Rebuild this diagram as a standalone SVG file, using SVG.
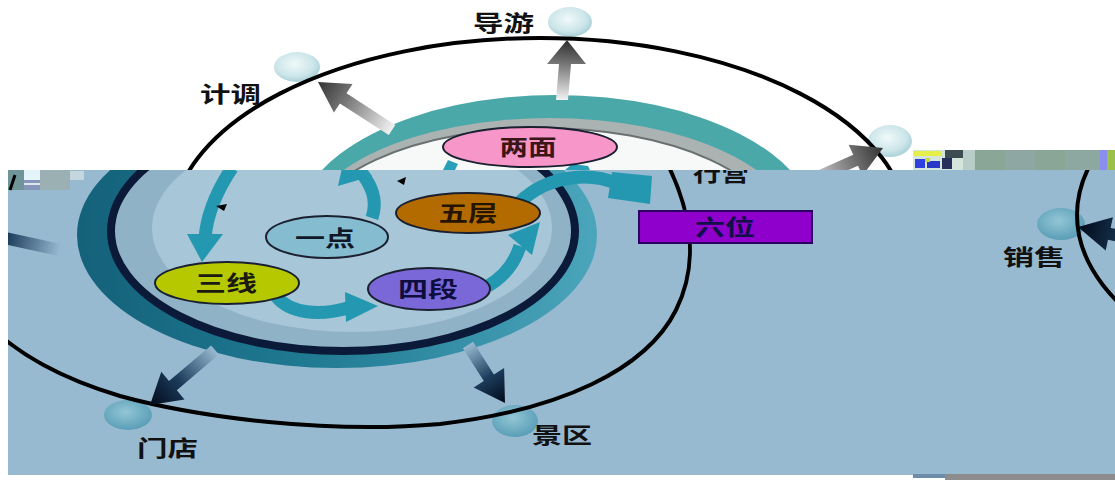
<svg xmlns="http://www.w3.org/2000/svg" width="1115" height="480" viewBox="0 0 1115 480">
<defs>
<style>
.lbl{font-family:"Noto Sans CJK SC","Noto Sans",sans-serif;font-weight:700;font-size:22px;fill:#111;}
.nt{font-family:"Noto Sans CJK SC","Noto Sans",sans-serif;font-weight:700;font-size:22px;text-anchor:middle;}
.orbit{fill:none;stroke:#000;stroke-width:4;}
.ta{fill:none;stroke:#2398b0;stroke-width:13;}
.th{fill:#2398b0;}
.node{stroke:#1a2030;stroke-width:2;}
</style>
<clipPath id="clipTop"><rect x="0" y="0" width="1115" height="170"/></clipPath>
<clipPath id="clipLow"><rect x="8" y="170" width="1107" height="305"/></clipPath>
<radialGradient id="ballTop" cx="0.45" cy="0.4" r="0.6"><stop offset="0" stop-color="#f0f9fa"/><stop offset="0.7" stop-color="#cbe5e9"/><stop offset="1" stop-color="#a9d0d8"/></radialGradient>
<radialGradient id="ballLow" cx="0.45" cy="0.4" r="0.6"><stop offset="0" stop-color="#93c6d5"/><stop offset="1" stop-color="#5a9eb7"/></radialGradient>
<linearGradient id="tealLow" x1="0" y1="0" x2="1" y2="0"><stop offset="0" stop-color="#14617a"/><stop offset="0.45" stop-color="#1f7a92"/><stop offset="1" stop-color="#4ba6bc"/></linearGradient>
<linearGradient id="gUp" gradientUnits="userSpaceOnUse" x1="562" y1="100" x2="567" y2="42"><stop offset="0" stop-color="#f2f2f2"/><stop offset="0.6" stop-color="#7a7a7a"/><stop offset="1" stop-color="#333"/></linearGradient>
<linearGradient id="gLeft" gradientUnits="userSpaceOnUse" x1="392" y1="130" x2="318" y2="82"><stop offset="0" stop-color="#f2f2f2"/><stop offset="0.6" stop-color="#7a7a7a"/><stop offset="1" stop-color="#333"/></linearGradient>
<linearGradient id="gRight" gradientUnits="userSpaceOnUse" x1="800" y1="185" x2="883" y2="148"><stop offset="0" stop-color="#f2f2f2"/><stop offset="0.6" stop-color="#7a7a7a"/><stop offset="1" stop-color="#333"/></linearGradient>
<linearGradient id="gStore" gradientUnits="userSpaceOnUse" x1="215" y1="350" x2="150" y2="405"><stop offset="0" stop-color="#98bad1"/><stop offset="0.55" stop-color="#1c3c5c"/><stop offset="1" stop-color="#020a1a"/></linearGradient>
<linearGradient id="gScenic" gradientUnits="userSpaceOnUse" x1="468" y1="345" x2="505" y2="403"><stop offset="0" stop-color="#98bad1"/><stop offset="0.55" stop-color="#1c3c5c"/><stop offset="1" stop-color="#020a1a"/></linearGradient>
<linearGradient id="gSales" gradientUnits="userSpaceOnUse" x1="1184" y1="250" x2="1078" y2="227"><stop offset="0" stop-color="#98bad1"/><stop offset="0.5" stop-color="#1c3c5c"/><stop offset="1" stop-color="#020a1a"/></linearGradient>
</defs>

<rect x="0" y="0" width="1115" height="480" fill="#fff"/>

<!-- ===== upper band ===== -->
<g id="upper" clip-path="url(#clipTop)">
  <g id="node-daoyou-ball"><ellipse cx="570" cy="22" rx="22" ry="15" fill="url(#ballTop)"/></g>
  <g id="node-jidiao-ball"><ellipse cx="297" cy="67" rx="23" ry="15" fill="url(#ballTop)"/></g>
  <g id="node-right-ball"><ellipse cx="890" cy="141" rx="22" ry="16" fill="url(#ballTop)"/></g>
  <ellipse class="orbit" cx="540" cy="228" rx="368" ry="190"/>
  <g id="ring-top">
    <ellipse cx="556" cy="228" rx="260" ry="133" fill="#4ba8a8"/>
    <ellipse cx="550" cy="232" rx="246" ry="114" fill="#aab2b2"/>
    <ellipse cx="543" cy="236" rx="236" ry="108" fill="#f7f9f9" stroke="#6a7070" stroke-width="2"/>
    <polygon points="443,170 448,160 458,164 455,170" fill="#2aa0b8"/>
    <polygon points="565,170 572,164 588,166 590,170" fill="#2aa0b8"/>
  </g>
  <g id="node-liangmian">
    <ellipse class="node" cx="530" cy="147" rx="87" ry="20" fill="#f796c9"/>
    <text class="nt" x="528" y="155" fill="#3a1616" textLength="57" lengthAdjust="spacingAndGlyphs">两面</text>
  </g>
  <g id="connectors-top">
    <polygon points="556,100 559,64 547,64 567,40 586,64 571,64 568,100" fill="url(#gUp)"/>
    <polygon points="395.3,125 346.5,93.3 352.5,84.1 318,82 333.9,112.6 339.9,103.4 388.7,135" fill="url(#gLeft)"/>
    <polygon points="797.6,179.5 853.2,154.7 848.7,144.7 883,148 862.5,175.7 858,165.7 802.4,190.5" fill="url(#gRight)"/>
  </g>
  <g id="label-daoyou"><text class="lbl" x="473" y="31" textLength="61" lengthAdjust="spacingAndGlyphs">导游</text></g>
  <g id="label-jidiao"><text class="lbl" x="200" y="102" textLength="61" lengthAdjust="spacingAndGlyphs">计调</text></g>
  <g id="glitch-top">
    <rect x="913" y="150" width="50" height="20" fill="#d4e6dc"/>
    <rect x="914" y="151" width="28" height="5" fill="#e6ee4a"/>
    <rect x="915" y="159" width="10" height="9" fill="#3040e0"/>
    <rect x="927" y="161" width="13" height="7" fill="#2a38c8"/>
    <rect x="925" y="158" width="5" height="4" fill="#c8d838"/>
    <rect x="942" y="158" width="10" height="11" fill="#26305a"/>
    <rect x="945" y="150" width="18" height="8" fill="#3c4c50"/>
    <rect x="963" y="150" width="12" height="20" fill="#b8ccc8"/>
    <rect x="975" y="150" width="125" height="20" fill="#8aa697"/>
    <rect x="1005" y="150" width="30" height="20" fill="#8ea7a2"/>
    <rect x="1065" y="150" width="35" height="20" fill="#8da8a0"/>
    <rect x="1100" y="150" width="7" height="20" fill="#8a8ef0"/>
    <rect x="1107" y="150" width="8" height="20" fill="#9cc048"/>
  </g>
</g>

<!-- ===== lower band ===== -->
<g id="lower" clip-path="url(#clipLow)">
  <rect x="8" y="170" width="1107" height="305" fill="#98bad1"/>
  <!-- wrapped right part -->
  <g id="node-xiaoshou-ball"><ellipse cx="1061" cy="224" rx="24" ry="16" fill="url(#ballLow)"/></g>
  <ellipse class="orbit" cx="1445" cy="215" rx="368" ry="190"/>
  <g id="node-mendian-ball"><ellipse cx="128" cy="415" rx="24" ry="15" fill="url(#ballLow)"/></g>
  <g id="node-jingqu-ball"><ellipse cx="515" cy="421" rx="23" ry="16" fill="url(#ballLow)"/></g>
  <path class="orbit" d="M 668,165 C 690,210 700,262 676,310 C 646,370 560,410 440,424 C 330,434 200,418 120,396 C 60,378 20,355 -12,325"/>
  <g id="ring-low">
    <ellipse cx="337" cy="235" rx="260" ry="133" fill="url(#tealLow)"/>
    <ellipse cx="343" cy="231" rx="232" ry="120" fill="#8fb2c7" stroke="#0c1a3a" stroke-width="8"/>
    <ellipse cx="352" cy="228" rx="200" ry="104" fill="#a7c6d7"/>
  </g>
  <g id="connectors-inner">
    <path class="ta" d="M 232,168 C 216,192 207,214 205,238"/>
    <polygon class="th" points="187,234 223,234 202,262"/>
    <path class="ta" d="M 276,296 C 290,314 320,316 348,308"/>
    <polygon class="th" points="345,292 378,306 346,322"/>
    <path class="ta" d="M 488,286 C 505,276 515,262 520,246"/>
    <polygon class="th" points="508,235 540,222 532,255"/>
    <path class="ta" d="M 520,202 C 545,178 585,170 618,184"/>
    <polygon class="th" points="612,172 652,176 650,204 608,198"/>
    <path class="ta" d="M 372,218 C 378,200 372,185 358,168"/>
    <polygon class="th" points="338,186 372,176 346,150"/>
    <polygon points="216,206 227,204 224,211" fill="#000"/>
    <polygon points="397,181 406,177 404,185" fill="#000"/>
  </g>
  <g id="node-yidian">
    <ellipse class="node" cx="327" cy="237" rx="61" ry="21" fill="#86bcd0"/>
    <text class="nt" x="325" y="246" fill="#101828" font-weight="400" textLength="60" lengthAdjust="spacingAndGlyphs">一点</text>
  </g>
  <g id="node-sanxian">
    <ellipse class="node" cx="227" cy="283" rx="72" ry="21" fill="#b6c800"/>
    <text class="nt" x="226" y="291" fill="#1a1a10" font-weight="400" textLength="62" lengthAdjust="spacingAndGlyphs">三线</text>
  </g>
  <g id="node-siduan">
    <ellipse class="node" cx="429" cy="289" rx="61" ry="21" fill="#7a68d8"/>
    <text class="nt" x="428" y="297" fill="#0e0e3e" textLength="60" lengthAdjust="spacingAndGlyphs">四段</text>
  </g>
  <g id="node-wuceng">
    <ellipse class="node" cx="468" cy="213" rx="72" ry="20" fill="#b36b00"/>
    <text class="nt" x="468" y="221" fill="#241400" textLength="59" lengthAdjust="spacingAndGlyphs">五层</text>
  </g>
  <g id="node-liuwei">
    <rect x="639" y="211" width="173" height="32" fill="#9000cc" stroke="#2a0060" stroke-width="2"/>
    <text class="nt" x="725" y="235" fill="#10104a" textLength="60" lengthAdjust="spacingAndGlyphs">六位</text>
  </g>
  <g id="label-xingying"><text class="lbl" x="693" y="181" textLength="56" lengthAdjust="spacingAndGlyphs">行营</text></g>
  <g id="connectors-outer">
    <polygon points="211.1,345.4 169,381 161.3,371.8 150,405 184.5,399.4 176.8,390.2 218.9,354.6" fill="url(#gStore)"/>
    <polygon points="462.9,348.2 483.8,380.9 473.7,387.4 505,403 504.1,368 493.9,374.5 473.1,341.8" fill="url(#gScenic)"/>
    <polygon points="1185.3,244.1 1110.6,227.9 1112.9,217.2 1078,227 1105.7,250.4 1108,239.7 1182.7,255.9" fill="url(#gSales)"/>
    <polygon transform="translate(-1124,0)" points="1185.3,244.1 1110.6,227.9 1112.9,217.2 1078,227 1105.7,250.4 1108,239.7 1182.7,255.9" fill="url(#gSales)"/>
  </g>
  <g id="label-mendian"><text class="lbl" x="137" y="456" textLength="61" lengthAdjust="spacingAndGlyphs">门店</text></g>
  <g id="label-jingqu"><text class="lbl" x="532" y="443" textLength="60" lengthAdjust="spacingAndGlyphs">景区</text></g>
  <g id="label-xiaoshou"><text class="lbl" x="1003" y="265" textLength="62" lengthAdjust="spacingAndGlyphs">销售</text></g>
  <g id="glitch-low">
    <rect x="8" y="170" width="16" height="20" fill="#6f9598"/>
    <line x1="10" y1="190" x2="15" y2="175" stroke="#000" stroke-width="3"/>
    <rect x="24" y="170" width="16" height="10" fill="#e4f4fa"/>
    <rect x="24" y="180" width="16" height="10" fill="#8696b8"/>
    <rect x="24" y="183" width="16" height="2" fill="#dde6f0"/>
    <rect x="40" y="170" width="30" height="20" fill="#9ab0b2"/>
    <rect x="70" y="171" width="14" height="9" fill="#c4d6de"/>
  </g>
</g>
<rect x="945" y="474" width="170" height="6" fill="#8c8c8c"/>
<rect x="913" y="474" width="32" height="4" fill="#6d8ca8"/>
</svg>
